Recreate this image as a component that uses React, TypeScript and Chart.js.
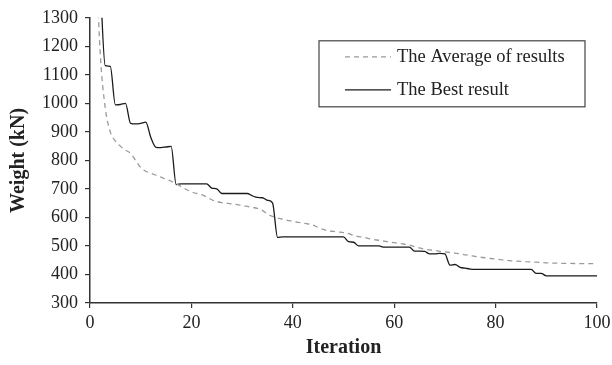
import React, { useEffect, useRef } from "react";
import { Chart, registerables } from "chart.js";

Chart.register(...registerables);

// Iteration numbers 1..100
const iterations: number[] = Array.from({ length: 100 }, (_, i) => i + 1);

// Mean weight of the population at each iteration (kN)
const averageWeight: number[] = [
  1600, 1180, 985, 900, 868, 850, 836, 825, 800, 775,
  762, 755, 748, 741, 734, 727, 718, 708, 698, 690,
  684, 680, 672, 662, 656, 652, 650, 647, 645, 642,
  639, 635, 632, 625, 612, 604, 598, 594, 590, 586,
  583, 580, 577, 573, 565, 558, 553, 551, 549, 547,
  543, 537, 533, 530, 526, 522, 520, 517, 514, 512,
  509, 506, 503, 498, 493, 489, 486, 484, 481, 479,
  477, 475, 472, 469, 466, 463, 461, 458, 456, 454,
  452, 450, 448, 447, 446, 445, 444, 443, 442, 441,
  440, 440, 439, 439, 439, 438, 438, 438, 438, 438,
];

// Best weight found up to each iteration (kN)
const bestWeight: number[] = [
  1800, 1440, 1132, 1130, 995, 996, 1000, 930, 928, 930,
  934, 880, 846, 845, 847, 849, 715, 718, 718, 718,
  718, 718, 718, 703, 700, 684, 684, 684, 684, 684,
  684, 676, 670, 669, 660, 651, 530, 532, 532, 532,
  532, 532, 532, 532, 532, 532, 532, 532, 532, 532,
  515, 513, 500, 500, 500, 500, 500, 496, 496, 496,
  496, 496, 496, 482, 482, 481, 472, 472, 474, 472,
  433, 435, 425, 422, 419, 418, 418, 418, 418, 418,
  418, 418, 418, 418, 418, 418, 418, 404, 404, 395,
  395, 395, 395, 395, 395, 395, 395, 395, 395, 395,
];

const seriesLabels: string[] = ["The Average of results", "The Best result"];
const xTitle = "Iteration";
const yTitle = "Weight (kN)";

const SERIF = "'Liberation Serif', 'Times New Roman', serif";

// Boxed legend drawn inside the plot area, top-right
const boxedLegend = {
  id: "boxedLegend",
  afterDraw(chart: any) {
    const { ctx, chartArea } = chart;
    const right = chartArea.right - 12;
    const top = chartArea.top + 23;
    const width = 266;
    const height = 66;
    const left = right - width;
    ctx.save();
    ctx.strokeStyle = "#444";
    ctx.lineWidth = 1.2;
    ctx.setLineDash([]);
    ctx.strokeRect(left, top, width, height);
    chart.data.datasets.forEach((ds: any, i: number) => {
      const y = top + 16 + i * 33;
      ctx.beginPath();
      ctx.strokeStyle = ds.borderColor;
      ctx.lineWidth = ds.borderWidth;
      ctx.setLineDash(ds.borderDash || []);
      ctx.moveTo(left + 26, y);
      ctx.lineTo(left + 72, y);
      ctx.stroke();
      ctx.setLineDash([]);
      ctx.fillStyle = "#222";
      ctx.font = `18.5px ${SERIF}`;
      ctx.textBaseline = "middle";
      ctx.textAlign = "left";
      ctx.fillText(ds.label, left + 78, y);
    });
    ctx.restore();
  },
};

const plainNumber = (v: string | number) => String(v);

export default function App() {
  const canvasRef = useRef<HTMLCanvasElement | null>(null);

  useEffect(() => {
    if (!canvasRef.current) return;
    const chart = new Chart(canvasRef.current, {
      type: "line",
      data: {
        labels: iterations,
        datasets: [
          {
            label: seriesLabels[0],
            data: iterations.map((x, i) => ({ x, y: averageWeight[i] })),
            borderColor: "#9a9a9a",
            borderWidth: 1.3,
            borderDash: [5, 4],
            pointRadius: 0,
            cubicInterpolationMode: "monotone",
            fill: false,
          },
          {
            label: seriesLabels[1],
            data: iterations.map((x, i) => ({ x, y: bestWeight[i] })),
            borderColor: "#1a1a1a",
            borderWidth: 1.3,
            pointRadius: 0,
            cubicInterpolationMode: "monotone",
            fill: false,
          },
        ],
      },
      options: {
        animation: false,
        responsive: true,
        maintainAspectRatio: false,
        layout: { padding: { top: 17, right: 15, left: 0, bottom: 0 } },
        plugins: {
          legend: { display: false },
          tooltip: { enabled: false },
        },
        scales: {
          x: {
            type: "linear",
            min: 0,
            max: 100,
            afterFit: (scale: any) => {
              scale.height = 62;
              scale.paddingLeft = 0;
              scale.paddingRight = 0;
            },
            ticks: {
              stepSize: 20,
              color: "#222",
              padding: 4,
              font: { family: SERIF, size: 18 },
              callback: plainNumber,
            },
            grid: {
              display: true,
              drawOnChartArea: false,
              drawTicks: true,
              tickLength: 5,
              color: "#333",
              lineWidth: 1.2,
            },
            border: { display: true, color: "#333", width: 1.5 },
            title: {
              display: true,
              text: xTitle,
              color: "#222",
              font: { family: SERIF, size: 20, weight: "bold" },
              padding: { top: 0, bottom: 5 },
            },
          },
          y: {
            min: 300,
            max: 1300,
            afterFit: (scale: any) => {
              scale.width = 90;
            },
            ticks: {
              stepSize: 100,
              color: "#222",
              padding: 7,
              font: { family: SERIF, size: 18 },
              callback: plainNumber,
            },
            grid: {
              display: true,
              drawOnChartArea: false,
              drawTicks: true,
              tickLength: 5,
              color: "#333",
              lineWidth: 1.2,
            },
            border: { display: true, color: "#333", width: 1.5 },
            title: {
              display: true,
              text: yTitle,
              color: "#222",
              font: { family: SERIF, size: 20, weight: "bold" },
              padding: { top: 7, bottom: 0 },
            },
          },
        },
      },
      plugins: [boxedLegend],
    });
    return () => chart.destroy();
  }, []);

  return (
    <div
      style={{
        position: "fixed",
        left: 0,
        top: 0,
        width: 612,
        height: 365,
        background: "#fff",
      }}
    >
      <canvas ref={canvasRef} />
    </div>
  );
}
